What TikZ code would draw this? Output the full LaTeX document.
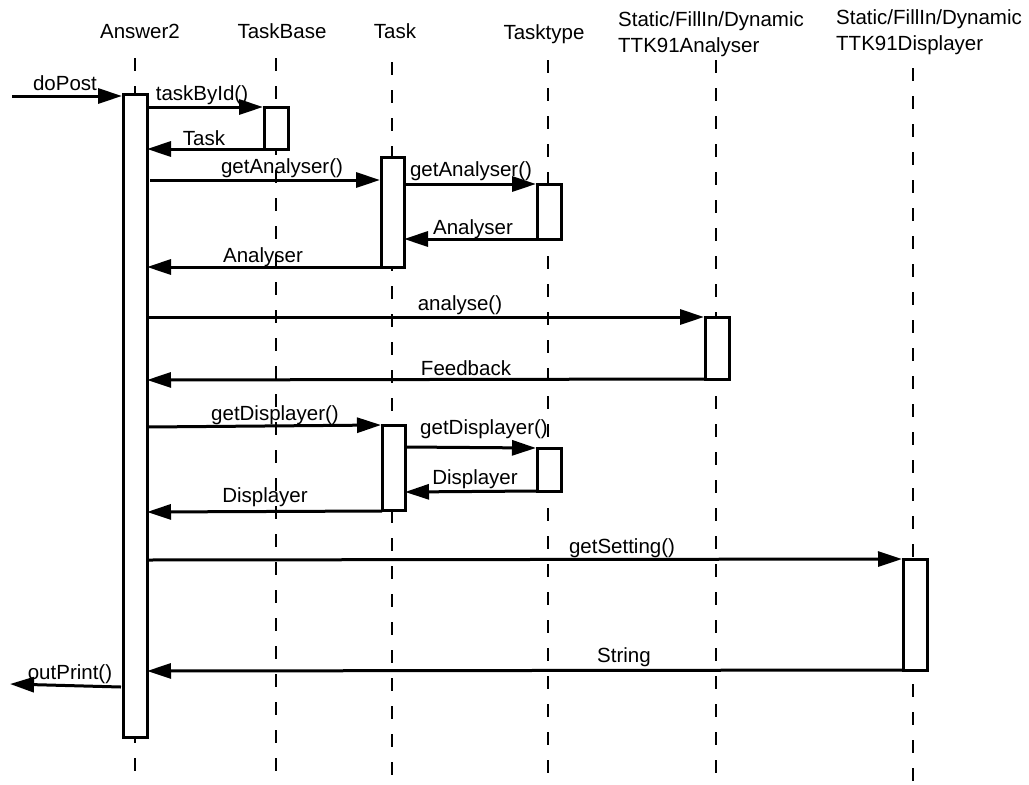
\documentclass[tikz,border=0pt]{standalone}
\usepackage{fontspec}
\setmainfont{Liberation Sans}
\usetikzlibrary{arrows.meta}
\begin{document}
\begin{tikzpicture}[x=1pt,y=-1pt,
  lifeline/.style={line width=2pt,dash pattern=on 13pt off 15pt},
  actbox/.style={draw,line width=3pt,fill=white},
  msg/.style={line width=3pt,-{Triangle[length=24pt,width=15pt]}},
  lbl/.style={anchor=base,inner sep=0pt,font=\fontsize{20.5}{22}\selectfont},
  hdr/.style={anchor=base,inner sep=0pt,font=\fontsize{20.5}{22}\selectfont},
  hdrl/.style={anchor=base west,inner sep=0pt,font=\fontsize{20.5}{22}\selectfont}]
\useasboundingbox (0,0) rectangle (1029,785);
\fill[white] (0,0) rectangle (1029,785);
% headers
\node[hdr] (hA) at (140,38) {Answer2};
\node[hdr] (hB) at (282,38) {TaskBase};
\node[hdr] (hC) at (395,38) {Task};
\node[hdr] (hD) at (544,39) {Tasktype};
\node[hdrl] (hE1) at (618,26) {Static/FillIn/Dynamic};
\node[hdrl] (hE2) at (618,52) {TTK91Analyser};
\node[hdrl] (hF1) at (836,24) {Static/FillIn/Dynamic};
\node[hdrl] (hF2) at (836,50) {TTK91Displayer};
% lifelines
\coordinate (lAt) at (135,58); \coordinate (lAb) at (135,790);
\coordinate (lBt) at (276,58); \coordinate (lBb) at (276,790);
\coordinate (lCt) at (392,62); \coordinate (lCb) at (392,790);
\coordinate (lDt) at (548,60); \coordinate (lDb) at (548,790);
\coordinate (lEt) at (716,60); \coordinate (lEb) at (716,790);
\coordinate (lFt) at (913,68); \coordinate (lFb) at (913,790);
\draw[lifeline] (lAt) -- (lAb);
\draw[lifeline] (lBt) -- (lBb);
\draw[lifeline] (lCt) -- (lCb);
\draw[lifeline] (lDt) -- (lDb);
\draw[lifeline] (lEt) -- (lEb);
\draw[lifeline] (lFt) -- (lFb);
% activation boxes
\draw[actbox] (123,94) rectangle (147,737);
\draw[actbox] (264,107) rectangle (288,149);
\draw[actbox] (381,157) rectangle (404,267);
\draw[actbox] (537,184) rectangle (561,239);
\draw[actbox] (705,317) rectangle (729,379);
\draw[actbox] (382,425) rectangle (405,510);
\draw[actbox] (537,448) rectangle (561,491);
\draw[actbox] (903,559) rectangle (927,670);
% message end points
\coordinate (m1s) at (12,96);   \coordinate (m1e) at (122,96);
\coordinate (m2s) at (147,107); \coordinate (m2e) at (263,107);
\coordinate (m3s) at (264,149); \coordinate (m3e) at (147,149);
\coordinate (m4s) at (150,180); \coordinate (m4e) at (380,180);
\coordinate (m5s) at (404,184); \coordinate (m5e) at (536,184);
\coordinate (m6s) at (537,239); \coordinate (m6e) at (404,239);
\coordinate (m7s) at (381,267); \coordinate (m7e) at (147,267);
\coordinate (m8s) at (147,317); \coordinate (m8e) at (704,317);
\coordinate (m9s) at (705,379); \coordinate (m9e) at (147,380);
\coordinate (m10s) at (147,427); \coordinate (m10e) at (381,425);
\coordinate (m11s) at (405,447); \coordinate (m11e) at (536,448);
\coordinate (m12s) at (537,491); \coordinate (m12e) at (405,492);
\coordinate (m13s) at (382,511); \coordinate (m13e) at (147,512);
\coordinate (m14s) at (147,560); \coordinate (m14e) at (902,559);
\coordinate (m15s) at (903,670); \coordinate (m15e) at (147,671);
\coordinate (m16s) at (121,687); \coordinate (m16e) at (10,684);
\draw[msg] (m1s) -- (m1e);
\draw[msg] (m2s) -- (m2e);
\draw[msg] (m3s) -- (m3e);
\draw[msg] (m4s) -- (m4e);
\draw[msg] (m5s) -- (m5e);
\draw[msg] (m6s) -- (m6e);
\draw[msg] (m7s) -- (m7e);
\draw[msg] (m8s) -- (m8e);
\draw[msg] (m9s) -- (m9e);
\draw[msg] (m10s) -- (m10e);
\draw[msg] (m11s) -- (m11e);
\draw[msg] (m12s) -- (m12e);
\draw[msg] (m13s) -- (m13e);
\draw[msg] (m14s) -- (m14e);
\draw[msg] (m15s) -- (m15e);
\draw[msg] (m16s) -- (m16e);
% labels
\node[lbl] (t1) at (65,90) {doPost};
\node[lbl] (t2) at (202,100) {taskById()};
\node[lbl] (t3) at (204,145) {Task};
\node[lbl] (t4) at (282,173) {getAnalyser()};
\node[lbl] (t5) at (471,176) {getAnalyser()};
\node[lbl] (t6) at (473,234) {Analyser};
\node[lbl] (t7) at (263,262) {Analyser};
\node[lbl] (t8) at (460,310) {analyse()};
\node[lbl] (t9) at (466,375) {Feedback};
\node[lbl] (t10) at (275,420) {getDisplayer()};
\node[lbl] (t11) at (484,434) {getDisplayer()};
\node[lbl] (t12) at (475,484) {Displayer};
\node[lbl] (t13) at (265,502) {Displayer};
\node[lbl] (t14) at (622,553) {getSetting()};
\node[lbl] (t15) at (624,662) {String};
\node[lbl] (t16) at (70,679) {outPrint()};
\end{tikzpicture}
\end{document}
